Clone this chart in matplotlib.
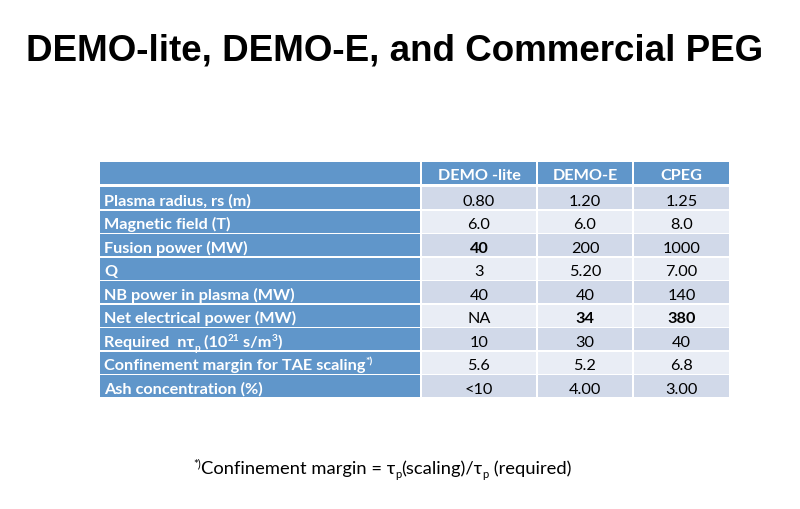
import re
import matplotlib
matplotlib.use("Agg")
import matplotlib.pyplot as plt
from matplotlib.patches import Rectangle

# ---------------- data ----------------
title = "DEMO-lite, DEMO-E, and Commercial PEG"
col_headers = ["DEMO -lite", "DEMO-E", "CPEG"]
row_labels = [
    "Plasma radius, rs (m)",
    "Magnetic field (T)",
    "Fusion power (MW)",
    "Q",
    "NB power in plasma (MW)",
    "Net electrical power (MW)",
    "Required  nτ_{p} (10^{21} s/m^{3})",
    "Confinement margin for TAE scaling^{*)}",
    "Ash concentration (%)",
]
demo_lite = ["0.80", "6.0", "40", "3", "40", "NA", "10", "5.6", "<10"]
demo_e = ["1.20", "6.0", "200", "5.20", "40", "34", "30", "5.2", "4.00"]
cpeg = ["1.25", "8.0", "1000", "7.00", "140", "380", "40", "6.8", "3.00"]
bold_cells = [(2, 0), (5, 1), (5, 2)]
footnote = "^{*)}Confinement margin = τ_{p}(scaling)/τ_{p} (required)"

# ---------------- style ----------------
FONT = ["Lato", "DejaVu Sans"]
BLUE = "#6096CA"
BAND1 = "#D1D9E9"
BAND2 = "#E9EDF5"

W, H = 800, 510
fig = plt.figure(figsize=(W / 100, H / 100), dpi=100)
ax = fig.add_axes([0, 0, 1, 1])
ax.set_xlim(0, W)
ax.set_ylim(H, 0)
ax.axis("off")
renderer = fig.canvas.get_renderer()


def parse(s):
    segs = []
    pos = 0
    for m in re.finditer(r"([_^])\{([^}]*)\}", s):
        if m.start() > pos:
            segs.append((s[pos:m.start()], "n"))
        segs.append((m.group(2), "sub" if m.group(1) == "_" else "sup"))
        pos = m.end()
    if pos < len(s):
        segs.append((s[pos:], "n"))
    return segs


def rich(x, y, s, size, weight="normal", color="black", ha="left"):
    segs = parse(s)
    items = []
    total = 0
    for txt, kind in segs:
        fs = size if kind == "n" else size * 0.62
        t = ax.text(0, 0, txt, fontsize=fs, fontweight=weight, color=color,
                    family=FONT, va="baseline", ha="left")
        w = t.get_window_extent(renderer).width
        items.append((t, kind, w))
        total += w
    if ha == "center":
        x0 = x - total / 2
    else:
        x0 = x
    px = size * 100 / 72
    for t, kind, w in items:
        dy = 0
        if kind == "sub":
            dy = 0.22 * px
        elif kind == "sup":
            dy = -0.38 * px
        t.set_position((x0, y + dy))
        x0 += w


# title
ax.text(395, 61, title, fontsize=26.5, fontweight="bold",
        family=["Liberation Sans", "DejaVu Sans"], ha="center", va="baseline")

# table geometry
col_edges = [99, 421, 537, 633, 730]
head_top, head_bot = 163, 184.5
row_top = 187.5
row_h = (399 - row_top) / len(row_labels)
gap = 1.0

values = [demo_lite, demo_e, cpeg]
BODY = 11.7

# header
for c in range(4):
    x0, x1 = col_edges[c], col_edges[c + 1]
    ax.add_patch(Rectangle((x0 + gap, head_top), x1 - x0 - 2 * gap,
                           head_bot - head_top, facecolor=BLUE, lw=0))
    if c > 0:
        rich((x0 + x1) / 2, head_bot - 4, col_headers[c - 1], BODY,
             weight="bold", color="white", ha="center")

# body
for r, lab in enumerate(row_labels):
    y0 = row_top + r * row_h
    yb = y0 + row_h - 5
    band = BAND1 if r % 2 == 0 else BAND2
    for c in range(4):
        x0, x1 = col_edges[c], col_edges[c + 1]
        fc = BLUE if c == 0 else band
        ax.add_patch(Rectangle((x0 + gap, y0 + gap * 0.8), x1 - x0 - 2 * gap,
                               row_h - 1.6 * gap, facecolor=fc, lw=0))
        if c == 0:
            rich(x0 + 5, yb, lab, BODY, weight="bold", color="white")
        else:
            wgt = "bold" if (r, c - 1) in bold_cells else "normal"
            rich((x0 + x1) / 2, yb, values[c - 1][r], BODY, weight=wgt,
                 color="black", ha="center")

# footnote
rich(193, 474, footnote, 13.2, color="black")

fig.savefig("out.png", dpi=100)
